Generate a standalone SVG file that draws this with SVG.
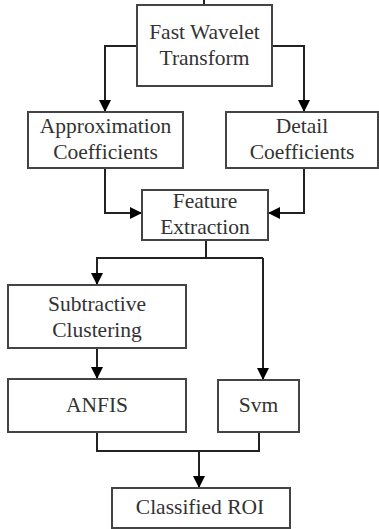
<svg xmlns="http://www.w3.org/2000/svg" width="379" height="529" viewBox="0 0 379 529">
<defs>
<marker id="arr" markerWidth="12" markerHeight="12" refX="12" refY="6" orient="auto" markerUnits="userSpaceOnUse">
<path d="M0,0 L12,6 L0,12 Z" fill="#000"/>
</marker>
<style>
.box{fill:#fff;stroke:#444;stroke-width:2}
text{font-size:21.5px;fill:#333;text-anchor:middle}
.c{fill:none;stroke:#222;stroke-width:2}
</style>
</defs>
<rect width="379" height="529" fill="#fff"/>
<g id="connectors">
<line class="c" x1="204" y1="0" x2="204" y2="5"/>
<path class="c" d="M137,46 H105 V112" marker-end="url(#arr)"/>
<path class="c" d="M272,46 H304 V112" marker-end="url(#arr)"/>
<path class="c" d="M105,168 V213 H142" marker-end="url(#arr)"/>
<path class="c" d="M304,168 V213 H268" marker-end="url(#arr)"/>
<path class="c" d="M206,240 V258"/>
<path class="c" d="M263,258 H97 V285" marker-end="url(#arr)"/>
<path class="c" d="M263,258 V380" marker-end="url(#arr)"/>
<path class="c" d="M97,348 V379" marker-end="url(#arr)"/>
<path class="c" d="M97,432 V451 H259 V432"/>
<path class="c" d="M199,451 V488" marker-end="url(#arr)"/>
</g>
<g id="nodes" font-family="Liberation Serif, Times New Roman, DejaVu Serif, serif">
<g id="fwt">
<rect class="box" x="137" y="5" width="135" height="81"/>
<text x="204.5" y="39">Fast Wavelet</text>
<text x="204.5" y="65">Transform</text>
</g>
<g id="approx">
<rect class="box" x="28" y="112" width="155" height="56"/>
<text x="105.5" y="133">Approximation</text>
<text x="105.5" y="159">Coefficients</text>
</g>
<g id="detail">
<rect class="box" x="226" y="112" width="152" height="56"/>
<text x="302" y="133">Detail</text>
<text x="302" y="159">Coefficients</text>
</g>
<g id="feature">
<rect class="box" x="142" y="190" width="126" height="50"/>
<text x="205" y="208">Feature</text>
<text x="205" y="234">Extraction</text>
</g>
<g id="subtractive">
<rect class="box" x="8" y="285" width="178" height="63"/>
<text x="97" y="311">Subtractive</text>
<text x="97" y="337">Clustering</text>
</g>
<g id="anfis">
<rect class="box" x="8" y="379" width="178" height="53"/>
<text x="97" y="412">ANFIS</text>
</g>
<g id="svm">
<rect class="box" x="218" y="380" width="81" height="52"/>
<text x="258.5" y="412">Svm</text>
</g>
<g id="classified">
<rect class="box" x="112" y="488" width="178" height="40"/>
<text x="200" y="514">Classified ROI</text>
</g>
</g>
</svg>
